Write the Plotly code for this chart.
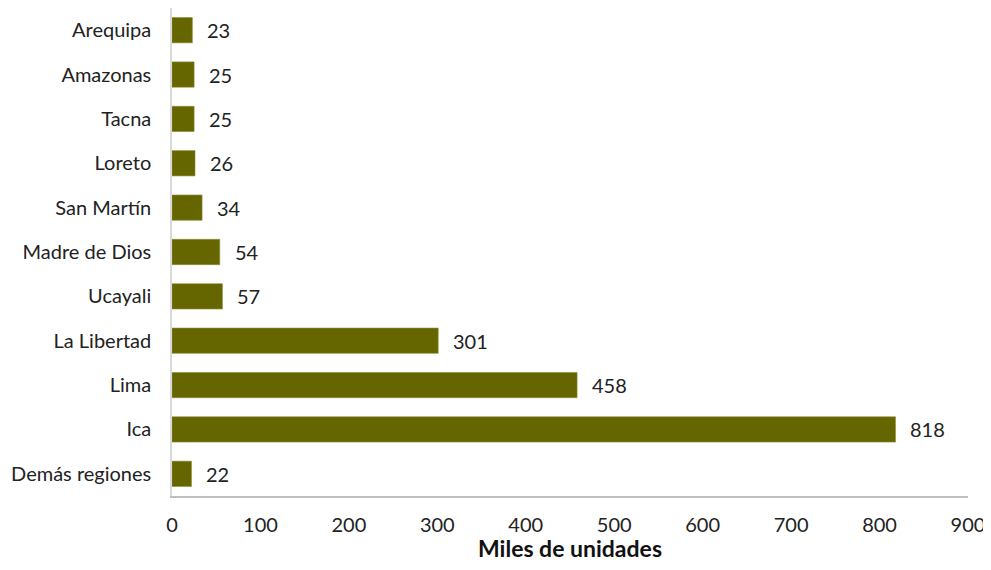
import plotly.graph_objects as go

regions = ["Demás regiones", "Ica", "Lima", "La Libertad", "Ucayali", "Madre de Dios",
           "San Martín", "Loreto", "Tacna", "Amazonas", "Arequipa"]
values = [22, 818, 458, 301, 57, 54, 34, 26, 25, 25, 23]
x_ticks = [0, 100, 200, 300, 400, 500, 600, 700, 800, 900]

FONT = "Lato"
fig = go.Figure()
fig.add_trace(go.Bar(
    y=regions, x=values, orientation="h",
    marker=dict(color="#666600", line=dict(color="#8a8a33", width=0.6)),
    hoverinfo="x+y",
))
for r, v in zip(regions, values):
    fig.add_annotation(x=v, y=r, text=str(v), showarrow=False, xanchor="left",
                       xshift=13, font=dict(family=FONT, size=20, color="#222222"))

# page body has an 8px default margin, so the figure is offset by 8px
fig.update_layout(
    width=983, height=554,
    margin=dict(l=164, r=23, t=0, b=66),
    plot_bgcolor="white", paper_bgcolor="white",
    bargap=0.43, showlegend=False,
    font=dict(family=FONT, size=20, color="#222222"),
)
fig.update_xaxes(range=[0, 900], tickvals=x_ticks, showgrid=False, zeroline=False,
                 showline=True, linecolor="#bfbfbf", linewidth=1.5,
                 ticks="", ticklabelstandoff=10, automargin=False,
                 ticklabeloverflow="allow",
                 title=dict(text="<b>Miles de unidades</b>", standoff=17,
                            font=dict(family=FONT, size=23, color="#111111")),
                 fixedrange=True)
fig.update_yaxes(showgrid=False, showline=True, linecolor="#d9d9d9", linewidth=1.5,
                 ticks="", ticklabelstandoff=15, automargin=False, fixedrange=True)
fig.write_html("out.html")
